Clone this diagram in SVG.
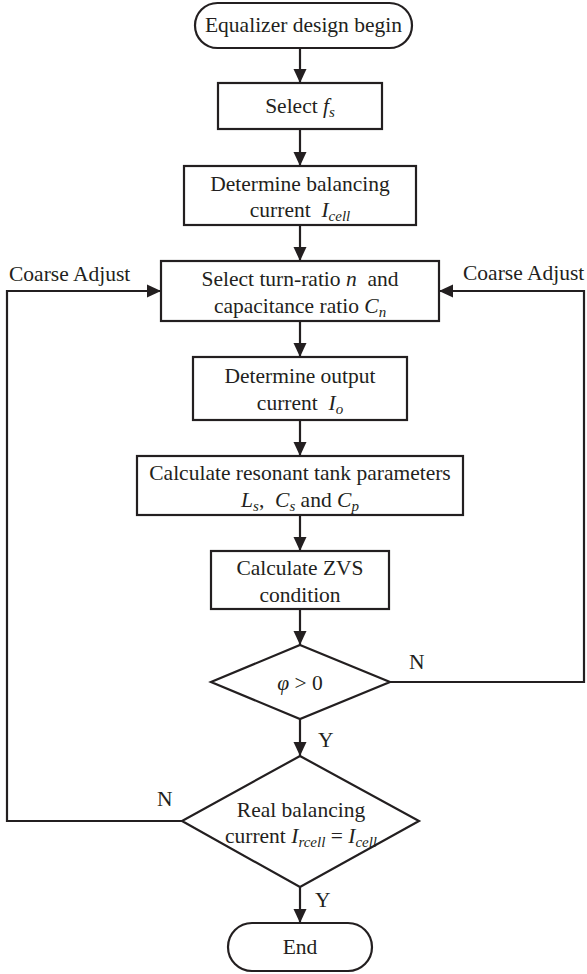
<svg xmlns="http://www.w3.org/2000/svg" width="587" height="974" viewBox="0 0 587 974">
<defs>
<style>
.b{fill:#fff;stroke:#231f20;stroke-width:2.2}
.c{fill:none;stroke:#231f20;stroke-width:2.2}
text{font-family:"Liberation Serif","Times New Roman",serif;font-size:21.5px;fill:#231f20}
.m{text-anchor:middle}
.i{font-style:italic}
.s{font-style:italic;font-size:15px}
</style>
<marker id="a" markerWidth="14" markerHeight="14" viewBox="0 0 14 14" refX="14" refY="7" orient="auto" markerUnits="userSpaceOnUse">
<path d="M0,0.5 L14,7 L0,13.5 Z" fill="#231f20"/>
</marker>
</defs>
<rect width="587" height="974" fill="#fff"/>
<g id="connectors">
<line class="c" x1="300" y1="48" x2="300" y2="83" marker-end="url(#a)"/>
<line class="c" x1="300" y1="129" x2="300" y2="166" marker-end="url(#a)"/>
<line class="c" x1="300" y1="225" x2="300" y2="261" marker-end="url(#a)"/>
<line class="c" x1="300" y1="321" x2="300" y2="357" marker-end="url(#a)"/>
<line class="c" x1="300" y1="420" x2="300" y2="456" marker-end="url(#a)"/>
<line class="c" x1="300" y1="515" x2="300" y2="551" marker-end="url(#a)"/>
<line class="c" x1="300" y1="609" x2="300" y2="645" marker-end="url(#a)"/>
<line class="c" x1="300" y1="719" x2="300" y2="756" marker-end="url(#a)"/>
<line class="c" x1="300" y1="887" x2="300" y2="923" marker-end="url(#a)"/>
<polyline class="c" points="390,682 584,682 584,291 439,291" marker-end="url(#a)"/>
<polyline class="c" points="182,821 7,821 7,291 161,291" marker-end="url(#a)"/>
<text x="9" y="281">Coarse Adjust</text>
<text x="463" y="280">Coarse Adjust</text>
<text x="409" y="669">N</text>
<text x="318" y="747">Y</text>
<text x="157" y="806">N</text>
<text x="315" y="907">Y</text>
</g>
<g id="start">
<rect class="b" x="195" y="3" width="217" height="45" rx="22.5"/>
<text class="m" x="303.5" y="32">Equalizer design begin</text>
</g>
<g id="select-fs">
<rect class="b" x="218" y="83" width="164" height="46"/>
<text class="m" x="300" y="113">Select <tspan class="i">f</tspan><tspan class="s" dy="4">s</tspan></text>
</g>
<g id="determine-current">
<rect class="b" x="184" y="166" width="232" height="59"/>
<text class="m" x="300" y="191">Determine balancing</text>
<text class="m" x="300" y="217">current &#160;<tspan class="i">I</tspan><tspan class="s" dy="4">cell</tspan></text>
</g>
<g id="select-ratio">
<rect class="b" x="161" y="261" width="278" height="60"/>
<text class="m" x="300" y="286">Select turn-ratio <tspan class="i">n</tspan> &#160;and</text>
<text class="m" x="300" y="313">capacitance ratio <tspan class="i">C</tspan><tspan class="s" dy="4">n</tspan></text>
</g>
<g id="determine-output">
<rect class="b" x="193" y="357" width="214" height="63"/>
<text class="m" x="300" y="383">Determine output</text>
<text class="m" x="300" y="410">current &#160;<tspan class="i">I</tspan><tspan class="s" dy="4">o</tspan></text>
</g>
<g id="calc-tank">
<rect class="b" x="137" y="456" width="326" height="59"/>
<text class="m" x="300" y="480">Calculate resonant tank parameters</text>
<text class="m" x="300" y="507"><tspan class="i">L</tspan><tspan class="s" dy="4">s</tspan><tspan dy="-4">, &#160;</tspan><tspan class="i">C</tspan><tspan class="s" dy="4">s</tspan><tspan dy="-4"> and </tspan><tspan class="i">C</tspan><tspan class="s" dy="4">p</tspan></text>
</g>
<g id="calc-zvs">
<rect class="b" x="211" y="551" width="178" height="58"/>
<text class="m" x="300" y="575">Calculate ZVS</text>
<text class="m" x="300" y="602">condition</text>
</g>
<g id="decision-phi">
<polygon class="b" points="300,645 390,682 300,719 211,682"/>
<text class="m" x="300" y="690"><tspan class="i">φ</tspan> &gt; 0</text>
</g>
<g id="decision-current">
<polygon class="b" points="300,756 419,821 300,887 182,821"/>
<text class="m" x="301" y="817">Real balancing</text>
<text class="m" x="301" y="843">current <tspan class="i">I</tspan><tspan class="s" dy="4">rcell</tspan><tspan dy="-4"> = </tspan><tspan class="i">I</tspan><tspan class="s" dy="4">cell</tspan></text>
</g>
<g id="end">
<rect class="b" x="228" y="923" width="144" height="48" rx="24"/>
<text class="m" x="300" y="954">End</text>
</g>
</svg>
